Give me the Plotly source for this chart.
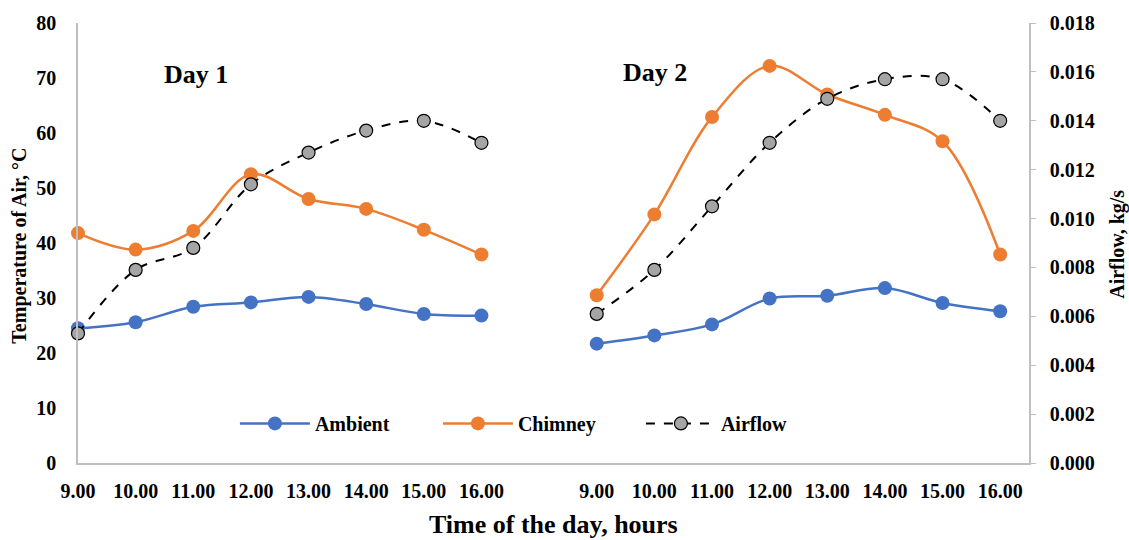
import plotly.graph_objects as go

# Hour labels for each day
hours = ["9.00", "10.00", "11.00", "12.00", "13.00", "14.00", "15.00", "16.00"]

# Temperatures, °C
ambient_day1 = [24.5, 25.6, 28.4, 29.2, 30.2, 28.9, 27.1, 26.8]
chimney_day1 = [41.8, 38.8, 42.2, 52.5, 48.0, 46.2, 42.4, 37.9]
ambient_day2 = [21.7, 23.2, 25.2, 29.9, 30.4, 31.8, 29.1, 27.6]
chimney_day2 = [30.5, 45.2, 62.9, 72.2, 67.0, 63.3, 58.5, 37.9]

# Airflow, kg/s
airflow_day1 = [0.0053, 0.0079, 0.0088, 0.0114, 0.0127, 0.0136, 0.0140, 0.0131]
airflow_day2 = [0.0061, 0.0079, 0.0105, 0.0131, 0.0149, 0.0157, 0.0157, 0.0140]

# Category positions: day 1 on slots 0-7, one empty slot, day 2 on slots 9-16
pos_day1 = list(range(len(hours)))
pos_day2 = [p + len(hours) + 1 for p in pos_day1]

BLUE = "#4472C4"
ORANGE = "#ED7D31"
GREY = "#A5A5A5"
FONT = "Liberation Serif"
AXIS_GREY = "#BFBFBF"

fig = go.Figure()

def add_series(x, y, name, color, show, yaxis="y", dashed=False):
    if dashed:
        line = dict(color="black", width=2, dash="dash", shape="spline", smoothing=1)
        marker = dict(size=13, color=GREY, line=dict(color="black", width=1.2))
    else:
        line = dict(color=color, width=2.5, shape="spline", smoothing=1)
        marker = dict(size=14, color=color)
    fig.add_trace(go.Scatter(
        x=x, y=y, name=name, mode="lines+markers", line=line, marker=marker,
        legendgroup=name, showlegend=show, yaxis=yaxis, cliponaxis=False,
    ))

add_series(pos_day1, ambient_day1, "Ambient", BLUE, True)
add_series(pos_day2, ambient_day2, "Ambient", BLUE, False)
add_series(pos_day1, chimney_day1, "Chimney", ORANGE, True)
add_series(pos_day2, chimney_day2, "Chimney", ORANGE, False)
add_series(pos_day1, airflow_day1, "Airflow", GREY, True, yaxis="y2", dashed=True)
add_series(pos_day2, airflow_day2, "Airflow", GREY, False, yaxis="y2", dashed=True)

tick_font = dict(family=FONT, size=20, color="black", weight="bold")

def label(text, x, y, size, angle=0):
    return dict(text=f"<b>{text}</b>", x=x, y=y, xref="paper", yref="paper",
                xanchor="center", yanchor="middle", showarrow=False,
                textangle=angle, font=dict(family=FONT, size=size, color="black"))

fig.update_layout(
    width=1129, height=540,
    margin=dict(l=78, r=100, t=18, b=77),
    plot_bgcolor="white", paper_bgcolor="white",
    font=dict(family=FONT, color="black"),
    xaxis=dict(
        range=[0, 16.5],
        tickvals=pos_day1 + pos_day2,
        ticktext=hours + hours,
        tickfont=tick_font,
        showgrid=False, zeroline=False,
        showline=True, linecolor=AXIS_GREY, linewidth=1.5,
        ticks="", ticklabelstandoff=9,
    ),
    yaxis=dict(
        range=[0, 80], dtick=10,
        tickfont=tick_font,
        showgrid=False, zeroline=False,
        showline=True, linecolor=AXIS_GREY, linewidth=1.5,
        ticks="", ticklabelstandoff=16,
    ),
    yaxis2=dict(
        range=[0, 0.018], dtick=0.002, tickformat=".3f",
        overlaying="y", side="right",
        tickfont=tick_font,
        showgrid=False, zeroline=False,
        showline=True, linecolor=AXIS_GREY, linewidth=1.5,
        ticks="outside", ticklen=5, tickcolor=AXIS_GREY, ticklabelstandoff=10,
    ),
    legend=dict(
        orientation="h", x=0.165, y=0.09, xanchor="left", yanchor="middle",
        font=dict(family=FONT, size=20, color="black", weight="bold"),
        itemwidth=70, entrywidth=118, entrywidthmode="pixels",
        bgcolor="rgba(0,0,0,0)",
    ),
    annotations=[
        label("Day 1", 0.124, 0.883, 26),
        label("Day 2", 0.607, 0.888, 26),
        label("Time of the day, hours", 0.5, -0.139, 26),
        label("Temperature of Air, °C", -0.061, 0.494, 20, -90),
        label("Airflow, kg/s", 1.093, 0.497, 20, -90),
    ],
)

fig.write_html("out.html")
